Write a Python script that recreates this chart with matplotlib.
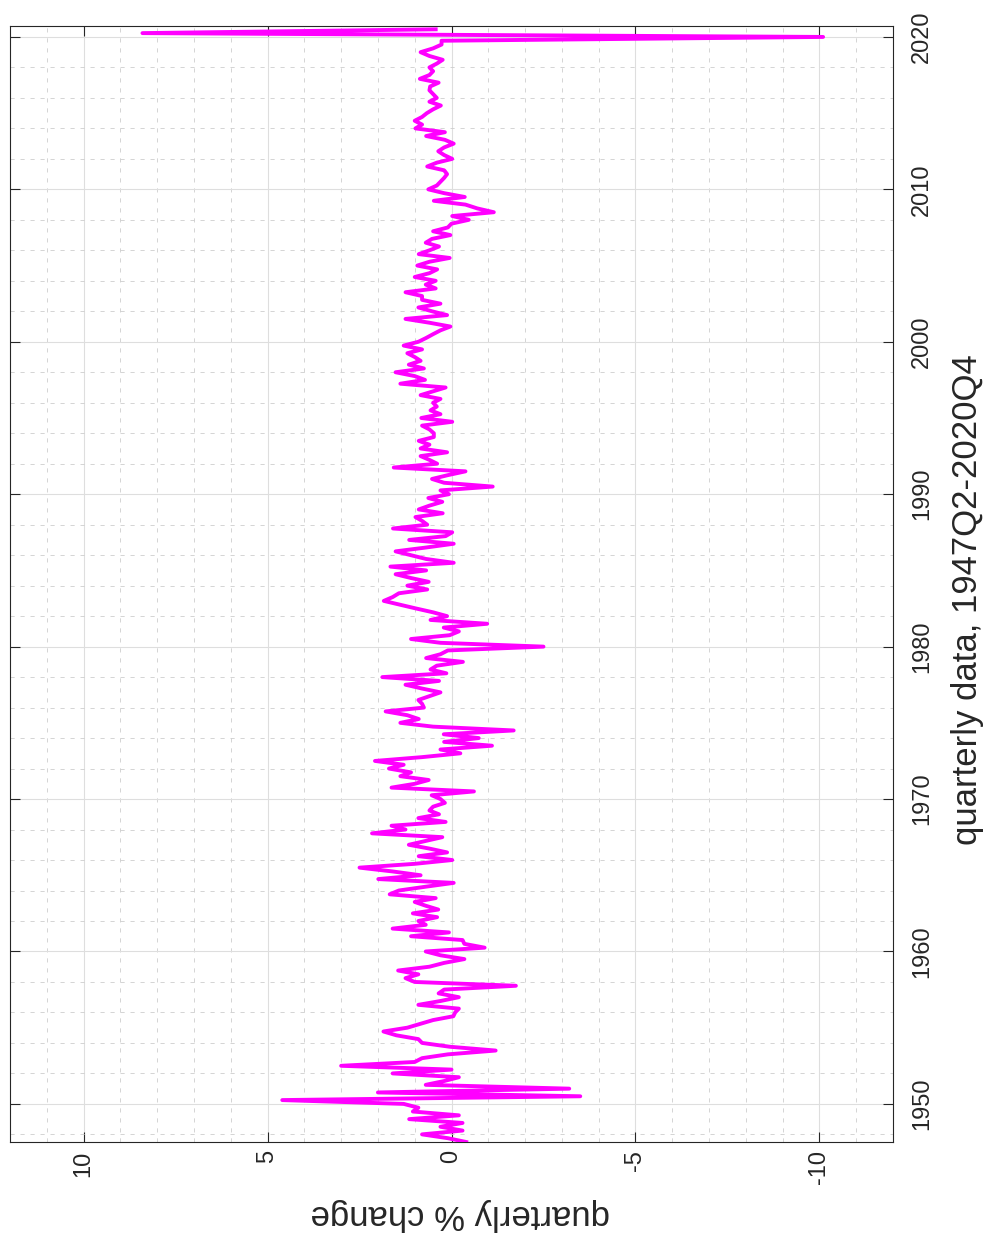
import numpy as np
import matplotlib.pyplot as plt
from matplotlib.ticker import MultipleLocator

plt.rcParams['font.family'] = ['Liberation Sans', 'DejaVu Sans']
plt.rcParams['axes.unicode_minus'] = False

# quarterly % change, one row per year (first value sits at 1947.5)
first_t = 1947.5
pct = [
    -0.4, 0.1,
    0.8, -0.3, 0.3, -0.3,      # 1948
    1.15, -0.2, 1.05, 0.9,     # 1949
    1.3, 4.6, -3.5, 2.0,       # 1950
    -3.2, 0.7, 0.2, -0.2,      # 1951
    1.6, 0.0, 3.0, 1.0,        # 1952
    0.8, 0.1, -1.2, 0.05,      # 1953
    0.8, 0.9, 1.5, 1.85,       # 1954
    1.2, 0.85, 0.5, -0.05,     # 1955
    -0.1, -0.2, 0.9, 0.3,      # 1956
    -0.2, 0.35, 0.2, -1.75,    # 1957
    1.0, 1.25, 0.9, 1.45,      # 1958
    0.6, 0.2, -0.35, 0.3,      # 1959
    0.7, -0.9, -0.35, -0.3,    # 1960
    1.1, 0.07, 1.6, 0.7,       # 1961
    0.9, 0.39, 1.05, 0.36,     # 1962
    0.7, 1.0, 0.43, 1.68,      # 1963
    1.43, 0.7, -0.06, 1.99,    # 1964
    0.84, 1.6, 2.5, 1.0,       # 1965
    -0.02, 0.89, 0.12, 0.6,    # 1966
    1.16, 0.7, 0.25, 2.16,     # 1967
    1.25, 1.63, 0.16, 0.9,     # 1968
    0.34, 0.6, 0.5, 0.18,      # 1969
    0.3, 0.54, -0.61, 1.63,    # 1970
    1.0, 0.62, 1.39, 1.1,      # 1971
    1.7, 1.3, 2.08, 0.8,       # 1972
    -0.24, 0.3, -1.1, 0.2,     # 1973
    -0.74, 0.21, -1.69, 0.5,   # 1974
    1.39, 0.89, 1.2, 1.79,     # 1975
    0.75, 0.8, 0.9, 0.6,       # 1976
    0.3, 0.8, 1.25, 0.34,      # 1977
    1.88, 0.14, 0.57, 0.4,     # 1978
    -0.31, 0.69, 0.3, 0.1,     # 1979
    -2.5, 0.3, 1.1, 0.05,      # 1980
    -0.2, 0.21, -0.97, 0.57,   # 1981
    0.12, 0.5, 0.96, 1.4,      # 1982
    1.84, 1.6, 1.43, 0.66,     # 1983
    1.2, 0.62, 1.1, 1.52,      # 1984
    0.69, 1.66, -0.06, 0.69,   # 1985
    1.1, 1.52, 0.7, -0.06,     # 1986
    1.15, 0.16, -0.02, 1.59,   # 1987
    0.66, 0.8, 0.98, 0.24,     # 1988
    0.89, 0.6, 0.25, 0.63,     # 1989
    0.07, 0.3, -1.12, 0.2,     # 1990
    0.53, 0.1, -0.38, 1.57,    # 1991
    0.39, 0.6, 0.84, 0.12,     # 1992
    0.84, 0.6, 0.89, 0.48,     # 1993
    0.48, 0.6, 0.8, -0.02,     # 1994
    0.82, 0.3, 0.57, 0.4,      # 1995
    0.5, 0.3, 0.84, 0.5,       # 1996
    0.16, 1.39, 0.72, 1.0,     # 1997
    1.52, 0.75, 1.16, 0.84,    # 1998
    1.0, 1.2, 0.8, 1.3,        # 1999
    0.9, 0.69, 0.5, 0.3,       # 2000
    0.03, 0.6, 1.25, 0.12,     # 2001
    0.53, 0.9, 0.3, 0.8,       # 2002
    0.8, 1.25, 0.43, 0.7,      # 2003
    0.43, 1.0, 0.6, 0.39,      # 2004
    0.93, 0.6, 0.05, 0.89,     # 2005
    0.6, 0.34, 0.7, 0.53,      # 2006
    0.03, 0.5, 0.1, 0.0,       # 2007
    -0.47, -0.02, -1.15, -0.7, # 2008
    -0.38, 0.48, -0.36, 0.2,   # 2009
    0.63, 0.4, 0.3, 0.2,       # 2010
    0.12, 0.2, 0.66, 0.4,      # 2011
    -0.02, 0.2, 0.36, 0.2,     # 2012
    -0.06, 0.18, 0.69, 0.18,   # 2013
    0.98, 0.8, 1.0, 0.8,       # 2014
    0.67, 0.5, 0.29, 0.6,      # 2015
    0.4, 0.5, 0.6, 0.58,       # 2016
    0.35, 0.86, 0.6, 0.5,      # 2017
    0.6, 0.4, 0.24, 0.6,       # 2018
    0.84, 0.5, 0.27, 0.27,     # 2019
    -10.1, 8.4, 0.43,          # 2020
]
t = first_t + 0.25*np.arange(len(pct))

xlab = 'quarterly % change'
ylab = 'quarterly data, 1947Q2-2020Q4'

fig = plt.figure(figsize=(9.84, 12.4), dpi=100)
ax = fig.add_axes([10/984, 1-1142/1240, 883/984, 1116.5/1240])
ax.plot(pct, t, color='#ff00ff', lw=2.8, solid_joinstyle='round', zorder=3)

ax.set_xlim(12, -12)
ax.set_ylim(1947.5, 2020.75)
ax.xaxis.set_major_locator(MultipleLocator(5))
ax.xaxis.set_minor_locator(MultipleLocator(1))
ax.yaxis.set_major_locator(MultipleLocator(10))
ax.yaxis.set_minor_locator(MultipleLocator(2))

ax.set_axisbelow(True)
ax.grid(which='major', color='#dedede', lw=0.8)
ax.grid(which='minor', color='#cdcdcd', lw=0.6, ls=(0, (5, 7)))

ax.tick_params(which='major', direction='in', length=7, width=0.8,
               top=True, right=True, left=True, bottom=True,
               labelleft=False, labelright=True, labelbottom=True,
               labelsize=17, color='#262626', labelcolor='#262626')
ax.tick_params(which='minor', length=0)
ax.tick_params(axis='x', labelrotation=90, pad=6)
ax.tick_params(axis='y', labelrotation=90, pad=13)
for lb in ax.get_yticklabels():
    lb.set_va('center')
for s in ax.spines.values():
    s.set_color('#262626')
    s.set_linewidth(0.8)

fig.text(460/984, 1-1215/1240, xlab, rotation=180, ha='center', va='center',
         fontsize=25, color='#262626')
fig.text(968/984, 1-600/1240, ylab, rotation=90, ha='center', va='center',
         fontsize=25, color='#262626')

fig.savefig('out.png', dpi=100)
